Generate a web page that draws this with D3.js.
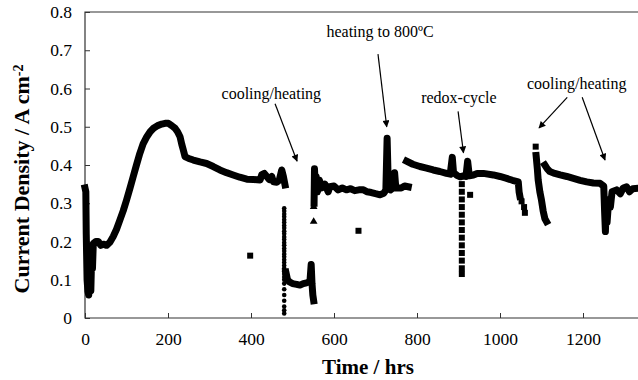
<!DOCTYPE html>
<html>
<head>
<meta charset="utf-8">
<script src="https://cdn.jsdelivr.net/npm/d3@7"></script>
<style>
  body { margin: 0; background: #fff; }
  svg { display: block; }
</style>
</head>
<body>
<script>
// Values: [time (hrs), current density (A/cm2)]
var xTicks = [0, 200, 400, 600, 800, 1000, 1200];
var yTicks = [0, 0.1, 0.2, 0.3, 0.4, 0.5, 0.6, 0.7, 0.8];

var seg1 = [[0,0.34],[2,0.33],[3,0.22],[5,0.1],[7,0.07],[9,0.06],[10,0.14],[12,0.08],[14,0.07],[16,0.16],[18,0.13],
  [20,0.195],[26,0.2],[32,0.2],[38,0.19],[44,0.193],[52,0.19],[60,0.198],[68,0.213],[76,0.232],[84,0.256],
  [92,0.28],[100,0.308],[108,0.338],[116,0.369],[124,0.4],[132,0.43],[140,0.455],[149,0.474],[157,0.487],
  [165,0.496],[175,0.503],[185,0.507],[193,0.509],[201,0.509],[209,0.503],[217,0.496],[223,0.487],[229,0.474],
  [233,0.455],[237,0.439],[241,0.422],[250,0.417],[261,0.413],[277,0.408],[293,0.404],[309,0.396],[325,0.387],
  [341,0.38],[357,0.374],[373,0.368],[390,0.363],[406,0.362],[422,0.361],[426,0.375],[432,0.378],[438,0.37],
  [444,0.362],[450,0.37],[454,0.356],[462,0.355],[468,0.36],[474,0.387],[478,0.37],[482,0.348]];
var seg2 = [[484,0.12],[488,0.1],[492,0.095],[500,0.09],[510,0.088],[518,0.086],[526,0.09],[534,0.092],
  [542,0.095],[545,0.14],[547,0.09],[549,0.06],[551,0.045]];
var seg3 = [[552,0.3],[553,0.39],[555,0.34],[557,0.37],[560,0.33],[565,0.36],[570,0.34],[578,0.35],[586,0.33],
  [590,0.343],[600,0.345],[610,0.335],[620,0.34],[630,0.335],[640,0.338],[650,0.333],[660,0.335],[671,0.335],
  [680,0.33],[690,0.328],[700,0.325],[711,0.322],[720,0.326],[725,0.335],[728,0.47],[731,0.34],[736,0.335],
  [742,0.34],[746,0.38],[749,0.34],[755,0.34],[762,0.34],[770,0.345],[779,0.343]];
var seg4 = [[775,0.41],[790,0.402],[807,0.396],[823,0.392],[839,0.387],[855,0.383],[871,0.378],[880,0.376],
  [885,0.42],[888,0.38],[896,0.373],[904,0.369],[912,0.372],[918,0.37],[922,0.41],[926,0.372],[936,0.374],
  [945,0.378],[960,0.378],[984,0.374],[1000,0.37],[1016,0.365],[1030,0.36],[1044,0.356],[1046,0.33],[1048,0.318]];
var seg5 = [[1087,0.425],[1090,0.39],[1092,0.361],[1096,0.33],[1100,0.308],[1104,0.28],[1108,0.26],[1112,0.252]];
var seg6 = [[1108,0.4],[1114,0.39],[1120,0.383],[1132,0.378],[1145,0.374],[1161,0.37],[1177,0.365],[1193,0.36],
  [1209,0.356],[1225,0.353],[1241,0.352],[1250,0.345],[1252,0.28],[1254,0.226],[1256,0.3],[1258,0.25],
  [1262,0.31],[1266,0.29],[1270,0.33],[1281,0.335],[1290,0.325],[1297,0.34],[1305,0.343],[1312,0.33],
  [1320,0.338],[1330,0.339]];
var lineSegments = [seg1, seg2, seg3, seg4, seg5, seg6];

var looseSquares = [[398,0.163],[659,0.228],[928,0.322],[1052,0.305],[1058,0.29],[1060,0.275],[1086,0.448]];
var redoxSquares = [[908,0.37],[908,0.35],[908,0.33],[908,0.31],[908,0.29],[908,0.27],[908,0.25],[908,0.23],
  [908,0.21],[908,0.19],[908,0.17],[908,0.15],[908,0.13],[908,0.115]];
var coolingDots = [[480,0.287],[480,0.28],[480,0.272],[480,0.265],[480,0.257],[480,0.25],[480,0.242],[480,0.235],
  [480,0.227],[480,0.22],[480,0.212],[480,0.205],[480,0.197],[480,0.19],[480,0.182],[480,0.175],[480,0.167],
  [480,0.16],[480,0.152],[480,0.145],[480,0.137],[480,0.13],[480,0.122],[480,0.115],[480,0.107],[480,0.1],
  [480,0.09],[480,0.075],[480,0.06],[480,0.045],[480,0.03],[480,0.02],[480,0.012]];
var triangles = [[551,0.291],[551,0.252]];

// annotations: text position and arrows in data units
var notes = [
  { text: "cooling/heating", x: 449, y: 0.582, arrows: [[[458,0.56],[511,0.41]]] },
  { text: "heating to 800\u00baC", x: 711, y: 0.745, arrows: [[[706,0.69],[727,0.5]]] },
  { text: "redox-cycle", x: 901, y: 0.572, arrows: [[[899,0.54],[912,0.432]]] },
  { text: "cooling/heating", x: 1185, y: 0.608, arrows: [[[1162,0.577],[1094,0.497]], [[1198,0.577],[1253,0.413]]] }
];

var serif = '"Liberation Serif", "DejaVu Serif", "Times New Roman", serif';
var W = 638, H = 380;
var margin = { top: 12, right: 1, bottom: 62, left: 85 };

var svg = d3.select("body").append("svg")
    .attr("width", W)
    .attr("height", H)
    .style("font-family", serif);

var x = d3.scaleLinear().domain([0, 1330]).range([margin.left, margin.left + 1330 * 0.415]);
var y = d3.scaleLinear().domain([0, 0.8]).range([H - margin.bottom, margin.top]);

var defs = svg.append("defs");
defs.append("marker")
    .attr("id", "arrow")
    .attr("viewBox", "0 0 10 10")
    .attr("refX", 9).attr("refY", 5)
    .attr("markerWidth", 9).attr("markerHeight", 7)
    .attr("markerUnits", "userSpaceOnUse")
    .attr("orient", "auto")
    .append("path")
    .attr("d", "M0,0 L10,5 L0,10 z")
    .attr("fill", "#000");

// frame: left, top, bottom lines
svg.append("path")
    .attr("d", "M" + W + "," + y(0.8) + " H" + x(0) + " V" + y(0) + " H" + W)
    .attr("fill", "none")
    .attr("stroke", "#333")
    .attr("stroke-width", 1.2);

// X axis (ticks inside)
var xAxis = svg.append("g")
    .attr("transform", "translate(0," + y(0) + ")")
    .call(d3.axisBottom(x).tickValues(xTicks).tickSizeInner(-5).tickSizeOuter(0).tickPadding(15)
      .tickFormat(d3.format("d")));
xAxis.attr("font-family", serif).attr("font-size", null);
xAxis.select(".domain").remove();
xAxis.selectAll("line").attr("stroke", "#333");
xAxis.selectAll("text").style("font-size", "17.5px").style("font-family", serif).attr("fill", "#000");

// Y axis (ticks inside)
var yAxis = svg.append("g")
    .attr("transform", "translate(" + x(0) + ",0)")
    .call(d3.axisLeft(y).tickValues(yTicks).tickSizeInner(-5).tickSizeOuter(0).tickPadding(13)
      .tickFormat(function(d) { return d === 0 ? "0" : d3.format(".1f")(d); }));
yAxis.attr("font-family", serif).attr("font-size", null);
yAxis.select(".domain").remove();
yAxis.selectAll("line").attr("stroke", "#333");
yAxis.selectAll("text").style("font-size", "17.5px").style("font-family", serif).attr("fill", "#000");

// data bands
var line = d3.line()
    .x(function(d) { return x(d[0]); })
    .y(function(d) { return y(d[1]); });

svg.append("g").selectAll("path")
    .data(lineSegments)
    .join("path")
    .attr("d", line)
    .attr("fill", "none")
    .attr("stroke", "#000")
    .attr("stroke-width", 7)
    .attr("stroke-linejoin", "round")
    .attr("stroke-linecap", "square");

var sq = 6;
svg.append("g").selectAll("rect")
    .data(looseSquares.concat(redoxSquares))
    .join("rect")
    .attr("x", function(d) { return x(d[0]) - sq / 2; })
    .attr("y", function(d) { return y(d[1]) - sq / 2; })
    .attr("width", sq)
    .attr("height", sq)
    .attr("fill", "#000");

svg.append("g").selectAll("circle")
    .data(coolingDots)
    .join("circle")
    .attr("cx", function(d) { return x(d[0]); })
    .attr("cy", function(d) { return y(d[1]); })
    .attr("r", 2.3)
    .attr("fill", "#000");

svg.append("g").selectAll("path")
    .data(triangles)
    .join("path")
    .attr("transform", function(d) { return "translate(" + x(d[0]) + "," + y(d[1]) + ")"; })
    .attr("d", d3.symbol().type(d3.symbolTriangle).size(26))
    .attr("fill", "#000");

// annotations
notes.forEach(function(n) {
    svg.append("text")
        .attr("x", x(n.x))
        .attr("y", y(n.y))
        .attr("text-anchor", "middle")
        .attr("dominant-baseline", "middle")
        .style("font-size", "16px")
        .text(n.text);
    n.arrows.forEach(function(a) {
        svg.append("line")
            .attr("x1", x(a[0][0])).attr("y1", y(a[0][1]))
            .attr("x2", x(a[1][0])).attr("y2", y(a[1][1]))
            .attr("stroke", "#000")
            .attr("stroke-width", 1.2)
            .attr("marker-end", "url(#arrow)");
    });
});

// axis titles
svg.append("text")
    .attr("x", 368)
    .attr("y", 374)
    .attr("text-anchor", "middle")
    .style("font-size", "21px")
    .style("font-weight", "bold")
    .text("Time / hrs");

var yt = svg.append("text")
    .attr("transform", "translate(29," + 179 + ") rotate(-90)")
    .attr("text-anchor", "middle")
    .style("font-size", "22px")
    .style("font-weight", "bold");
yt.append("tspan").text("Current Density / A cm");
yt.append("tspan").attr("dy", "-0.45em").style("font-size", "14px").text("-2");
</script>
</body>
</html>
